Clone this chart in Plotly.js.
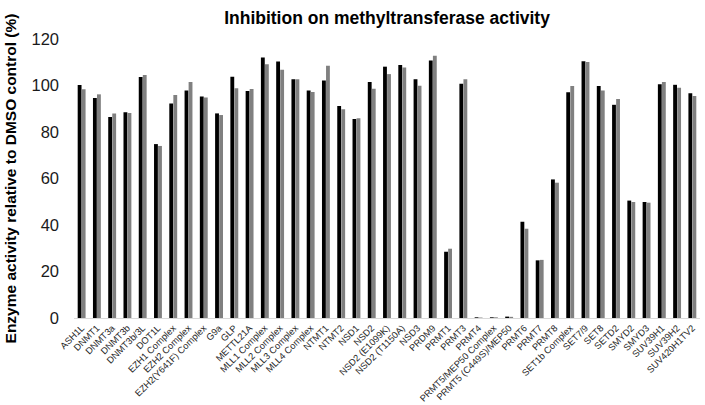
<!DOCTYPE html>
<html>
<head>
<meta charset="utf-8">
<script src="https://cdn.plot.ly/plotly-3.0.1.min.js"></script>
<style>html,body{margin:0;padding:0;background:#fff;}#chart{width:705px;height:405px;}</style>
</head>
<body>
<div id="chart"></div>
<script>
const categories = ["ASH1L","DNMT1","DNMT3a","DNMT3b","DNMT3b/3L","DOT1L","EZH1 Complex","EZH2 Complex","EZH2(Y641F) Complex","G9a","GLP","METTL21A","MLL1 Complex","MLL2 Complex","MLL3 Complex","MLL4 Complex","NTMT1","NTMT2","NSD1","NSD2","NSD2 (E1099K)","NSD2 (T1150A)","NSD3","PRDM9","PRMT1","PRMT3","PRMT4","PRMT5/MEP50 Complex","PRMT5 (C449S)/MEP50","PRMT6","PRMT7","PRMT8","SET1b Complex","SET7/9","SET8","SETD2","SMYD2","SMYD3","SUV39H1","SUV39H2","SUV420H1TV2"];
const seriesA = [100.2,94.6,86.5,88.5,103.7,74.8,92.3,97.8,95.3,88.0,103.8,97.6,112.0,110.3,102.7,97.9,102.2,91.2,85.6,101.5,108.1,108.8,102.7,110.8,28.5,100.8,0.3,0.3,0.6,41.4,24.8,59.6,97.1,110.4,99.8,91.7,50.5,49.9,100.5,100.3,96.7];
const seriesB = [98.4,96.2,88.0,88.2,104.5,74.0,95.9,101.5,94.8,87.3,98.8,98.5,109.1,106.8,102.7,97.2,108.5,89.8,85.9,98.6,104.9,107.7,99.9,112.8,29.8,102.7,0.2,0.3,0.5,38.4,25.0,58.2,99.8,110.1,97.8,94.2,49.9,49.6,101.5,99.0,95.5];
const yTicks = [0,20,40,60,80,100,120];

const traces = [
  {type:'bar', x:categories, y:seriesA, name:'Replicate 1', marker:{color:'#000000'}},
  {type:'bar', x:categories, y:seriesB, name:'Replicate 2', marker:{color:'#808080'}}
];
const layout = {
  width:705, height:405,
  margin:{l:74, r:5, t:39, b:87},
  paper_bgcolor:'#ffffff', plot_bgcolor:'#ffffff',
  showlegend:false,
  barmode:'group', bargap:0.47, bargroupgap:0.05,
  font:{family:'Liberation Sans, Arial, sans-serif', color:'#000'},
  title:{text:'<b>Inhibition on methyltransferase activity</b>', font:{size:17.5, color:'#000'}, x:0.549, xanchor:'center', y:0.955, yanchor:'middle'},
  xaxis:{
    tickangle:-45, tickfont:{size:9.3, color:'#262626'},
    showline:true, linecolor:'#d9d9d9', linewidth:1,
    showgrid:false, ticks:'', automargin:false
  },
  yaxis:{
    range:[0,120], tickvals:yTicks, ticktext:yTicks.map(String),
    tickfont:{size:16.5, color:'#1a1a1a'},
    showgrid:false, zeroline:false, showline:false, ticks:'',
    ticklabelstandoff:14, automargin:false,
    title:{text:'<b>Enzyme activity relative to DMSO control (%)</b>', font:{size:15.5, color:'#000'}, standoff:11}
  }
};
Plotly.newPlot('chart', traces, layout, {displayModeBar:false, staticPlot:true});
</script>
</body>
</html>
